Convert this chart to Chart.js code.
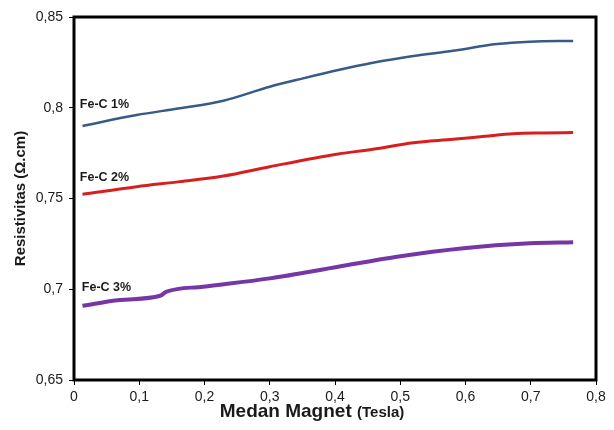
<!DOCTYPE html>
<html>
<head>
<meta charset="utf-8">
<script src="https://cdn.jsdelivr.net/npm/chart.js@4/dist/chart.umd.min.js"></script>
<style>
  html, body { margin: 0; padding: 0; background: #fff; }
  #wrap { width: 614px; height: 430px; }
</style>
</head>
<body>
<div id="wrap"><canvas id="chart" width="614" height="430"></canvas></div>
<script>
// magnetic field (Tesla) and resistivity (ohm.cm)
const fieldFe1 = [0.013, 0.096, 0.162, 0.229, 0.300, 0.351, 0.405, 0.458, 0.520, 0.581, 0.648, 0.699, 0.765];
const rhoFe1   = [0.7900, 0.7960, 0.7997, 0.8039, 0.8116, 0.8162, 0.8208, 0.8248, 0.8285, 0.8314, 0.8351, 0.8364, 0.8368];

const fieldFe2 = [0.013, 0.096, 0.162, 0.229, 0.300, 0.405, 0.458, 0.520, 0.581, 0.630, 0.673, 0.720, 0.765];
const rhoFe2   = [0.7523, 0.7565, 0.7593, 0.7624, 0.7675, 0.7745, 0.7771, 0.7807, 0.7826, 0.7843, 0.7857, 0.7861, 0.7863];

const fieldFe3 = [0.013, 0.070, 0.132, 0.142, 0.198, 0.300, 0.405, 0.495, 0.597, 0.699, 0.765];
const rhoFe3   = [0.6909, 0.6941, 0.6964, 0.6987, 0.7014, 0.7060, 0.7124, 0.7179, 0.7226, 0.7253, 0.7259];

const seriesNames = ['Fe-C 1%', 'Fe-C 2%', 'Fe-C 3%'];
// where each series name sits (x in Tesla, y in ohm.cm)
const nameAtX = [0.009, 0.009, 0.012];
const nameAtY = [0.8015, 0.7613, 0.7012];

const xTicks = [0, 0.1, 0.2, 0.3, 0.4, 0.5, 0.6, 0.7, 0.8];
const yTicks = [0.65, 0.7, 0.75, 0.8, 0.85];

const colors = ['#375b86', '#d81f1f', '#7636a6'];
const widths = [2.5, 3, 4];

function toPoints(xs, ys) {
    return xs.map((x, i) => ({ x: x, y: ys[i] }));
}

function commaNum(v) {
    return String(Number(v.toFixed(2))).replace('.', ',');
}

// frame, series names and axis titles
const extras = {
    id: 'extras',
    afterDraw(chart) {
        const ctx = chart.ctx;
        const a = chart.chartArea;
        const xs = chart.scales.x, ys = chart.scales.y;
        ctx.save();
        ctx.strokeStyle = '#000';
        ctx.lineWidth = 3;
        ctx.strokeRect(a.left, a.top, a.right - a.left, a.bottom - a.top);

        ctx.fillStyle = '#1a1a1a';
        ctx.font = 'bold 12.5px "Liberation Sans", Arial, sans-serif';
        ctx.textBaseline = 'middle';
        ctx.textAlign = 'left';
        seriesNames.forEach((n, i) => {
            ctx.fillText(n, xs.getPixelForValue(nameAtX[i]), ys.getPixelForValue(nameAtY[i]));
        });

        // x title
        ctx.fillStyle = '#1a1a1a';
        ctx.textBaseline = 'middle';
        const part1 = 'Medan Magnet ', part2 = '(Tesla)';
        ctx.font = 'bold 19px "Liberation Sans", Arial, sans-serif';
        const w1 = ctx.measureText(part1).width;
        ctx.font = 'bold 15px "Liberation Sans", Arial, sans-serif';
        const w2 = ctx.measureText(part2).width;
        let x0 = 312 - (w1 + w2) / 2;
        ctx.textAlign = 'left';
        ctx.font = 'bold 19px "Liberation Sans", Arial, sans-serif';
        ctx.fillText(part1, x0, 412);
        ctx.font = 'bold 15px "Liberation Sans", Arial, sans-serif';
        ctx.fillText(part2, x0 + w1, 413);

        // y title
        ctx.translate(21, (a.top + a.bottom) / 2);
        ctx.rotate(-Math.PI / 2);
        ctx.textAlign = 'center';
        ctx.font = 'bold 15px "Liberation Sans", Arial, sans-serif';
        ctx.fillText('Resistivitas (\u03A9.cm)', 0, 0);
        ctx.restore();
    }
};

const tickFont = { family: '"Liberation Sans", Arial, sans-serif', size: 14 };

new Chart(document.getElementById('chart'), {
    type: 'line',
    data: {
        datasets: [0, 1, 2].map(i => ({
            label: seriesNames[i],
            data: toPoints([fieldFe1, fieldFe2, fieldFe3][i], [rhoFe1, rhoFe2, rhoFe3][i]),
            borderColor: colors[i],
            borderWidth: widths[i],
            pointRadius: 0,
            fill: false,
            cubicInterpolationMode: 'monotone'
        }))
    },
    options: {
        responsive: false,
        animation: false,
        layout: { padding: { top: 17, right: 18, left: 0, bottom: 0 } },
        plugins: { legend: { display: false }, tooltip: { enabled: false } },
        scales: {
            x: {
                type: 'linear',
                min: 0, max: 0.8,
                afterBuildTicks: s => { s.ticks = xTicks.map(v => ({ value: v })); },
                afterFit: s => { s.height = 50; },
                grid: { display: true, drawOnChartArea: false, drawTicks: true, tickLength: 5, color: '#000' },
                border: { display: false },
                ticks: { color: '#1a1a1a', font: tickFont, padding: 4, maxRotation: 0, callback: v => commaNum(v) }
            },
            y: {
                type: 'linear',
                min: 0.65, max: 0.85,
                afterBuildTicks: s => { s.ticks = yTicks.map(v => ({ value: v })); },
                afterFit: s => { s.width = 74; },
                grid: { display: true, drawOnChartArea: false, drawTicks: true, tickLength: 5, color: '#000' },
                border: { display: false },
                ticks: { color: '#1a1a1a', font: tickFont, padding: 6, callback: v => commaNum(v) }
            }
        }
    },
    plugins: [extras]
});
</script>
</body>
</html>
